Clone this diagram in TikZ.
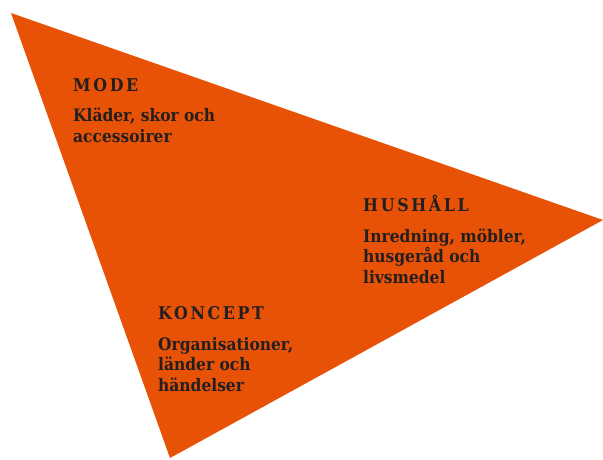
\documentclass[tikz,border=0pt]{standalone}
\usepackage{fontspec}
\setmainfont{DejaVu Serif Condensed}[BoldFont={DejaVu Serif Condensed Bold}]
\definecolor{triorange}{RGB}{232,82,6}
\definecolor{txt}{RGB}{35,31,32}
\begin{document}
\begin{tikzpicture}[x=1pt,y=-1pt,
  head/.style={anchor=base west,inner sep=0pt,text=txt,font=\fontsize{17.6}{20}\selectfont\bfseries\addfontfeatures{LetterSpace=15}},
  body/.style={anchor=base west,inner sep=0pt,text=txt,align=left,font=\fontsize{17.2}{20.2}\selectfont\bfseries}]
\useasboundingbox (0,0) rectangle (603,459);
\coordinate (tl) at (11,13);
\coordinate (r) at (603,220);
\coordinate (b) at (170,458);
\fill[triorange] (tl) -- (r) -- (b) -- cycle;
\node[head] (mode) at (73,91) {MODE};
\node[body] (modetxt) at (73,142) {Kläder, skor och\\accessoirer};
\node[head] (hush) at (363,211) {HUSHÅLL};
\node[body] (hushtxt) at (363,283) {Inredning, möbler,\\husgeråd och\\livsmedel};
\node[head] (konc) at (158,319) {KONCEPT};
\node[body] (konctxt) at (158,391) {Organisationer,\\länder och\\händelser};
\end{tikzpicture}
\end{document}
